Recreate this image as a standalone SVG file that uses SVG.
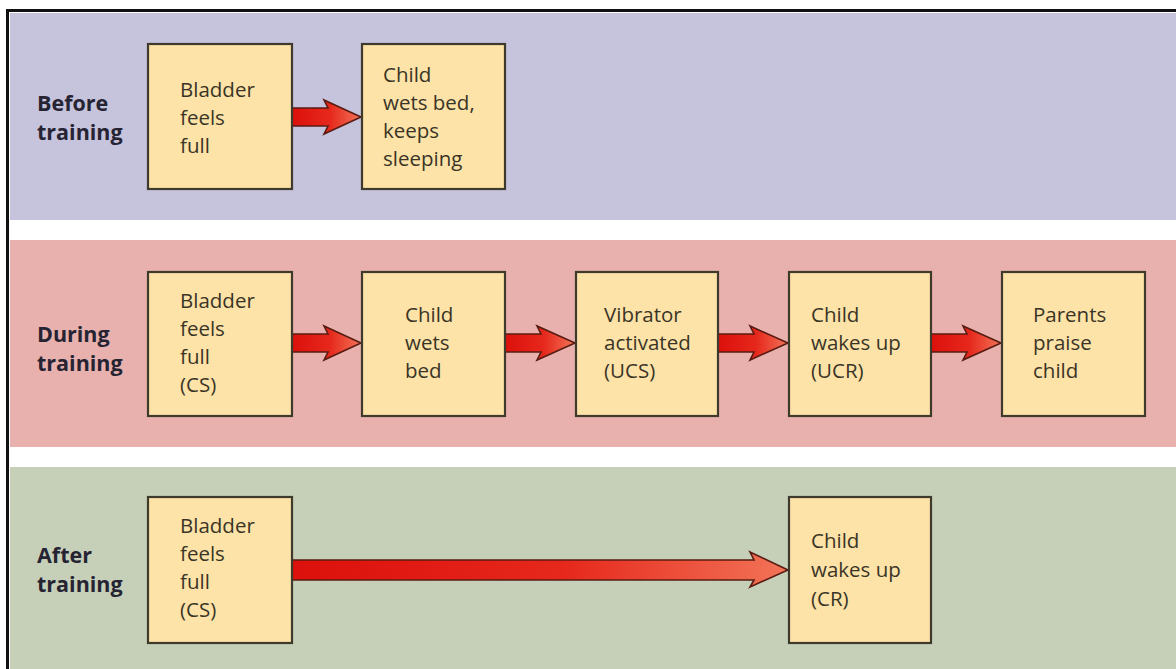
<svg xmlns="http://www.w3.org/2000/svg" width="1176" height="669" viewBox="0 0 1176 669">
<defs>
<linearGradient id="ag" x1="0" y1="0" x2="1" y2="0">
<stop offset="0" stop-color="#dc100c"/>
<stop offset="0.55" stop-color="#e6281c"/>
<stop offset="1" stop-color="#f27458"/>
</linearGradient>
<style>
.box{fill:#fde3a8;stroke:#3e3a2c;stroke-width:2.2}
.t{font-family:"Open Sans","Noto Sans",sans-serif;font-size:20.5px;fill:#3a3426}
.lab{font-family:"Open Sans","Noto Sans",sans-serif;font-size:21.5px;font-weight:bold;fill:#262433}
.arr{fill:url(#ag);stroke:#5a1c12;stroke-width:1.6;stroke-linejoin:miter}
</style>
</defs>
<rect x="0" y="0" width="1176" height="669" fill="#ffffff"/>
<rect x="10" y="13" width="1166" height="207" fill="#c6c3dc"/>
<rect x="10" y="240" width="1166" height="207" fill="#e8b1ae"/>
<rect x="10" y="467" width="1166" height="202" fill="#c6d0b9"/>
<path d="M7.5 669 V10.5 H1176" fill="none" stroke="#111" stroke-width="3"/>

<g id="labels">
<text class="lab" x="37" y="111">Before</text>
<text class="lab" x="37" y="140">training</text>
<text class="lab" x="37" y="342">During</text>
<text class="lab" x="37" y="371">training</text>
<text class="lab" x="37" y="563">After</text>
<text class="lab" x="37" y="592">training</text>
</g>

<g id="connectors">
<path class="arr" d="M292 108 H328 L324 100 L361 117 L324 134 L328 126 H292 Z"/>
<path class="arr" d="M292 334 H328 L324 326 L361 343 L324 360 L328 352 H292 Z"/>
<path class="arr" d="M505 334 H541 L537 326 L575 343 L537 360 L541 352 H505 Z"/>
<path class="arr" d="M718 334 H754 L750 326 L788 343 L750 360 L754 352 H718 Z"/>
<path class="arr" d="M931 334 H967 L963 326 L1001 343 L963 360 L967 352 H931 Z"/>
<path class="arr" d="M292 560 H754 L750 552 L788 570 L750 587 L754 580 H292 Z"/>
</g>

<g id="before-bladder">
<rect class="box" x="148" y="44" width="144" height="145"/>
<text class="t" x="180" y="97">Bladder</text>
<text class="t" x="180" y="125">feels</text>
<text class="t" x="180" y="153">full</text>
</g>
<g id="before-wets">
<rect class="box" x="362" y="44" width="143" height="145"/>
<text class="t" x="383" y="82">Child</text>
<text class="t" x="383" y="110">wets bed,</text>
<text class="t" x="383" y="138">keeps</text>
<text class="t" x="383" y="166">sleeping</text>
</g>

<g id="during-bladder">
<rect class="box" x="148" y="272" width="144" height="144"/>
<text class="t" x="180" y="308">Bladder</text>
<text class="t" x="180" y="336">feels</text>
<text class="t" x="180" y="364">full</text>
<text class="t" x="180" y="392">(CS)</text>
</g>
<g id="during-wets">
<rect class="box" x="362" y="272" width="143" height="144"/>
<text class="t" x="405" y="322">Child</text>
<text class="t" x="405" y="350">wets</text>
<text class="t" x="405" y="378">bed</text>
</g>
<g id="during-vibrator">
<rect class="box" x="576" y="272" width="142" height="144"/>
<text class="t" x="604" y="322">Vibrator</text>
<text class="t" x="604" y="350">activated</text>
<text class="t" x="604" y="378">(UCS)</text>
</g>
<g id="during-wakes">
<rect class="box" x="789" y="272" width="142" height="144"/>
<text class="t" x="811" y="322">Child</text>
<text class="t" x="811" y="350">wakes up</text>
<text class="t" x="811" y="378">(UCR)</text>
</g>
<g id="during-praise">
<rect class="box" x="1002" y="272" width="143" height="144"/>
<text class="t" x="1033" y="322">Parents</text>
<text class="t" x="1033" y="350">praise</text>
<text class="t" x="1033" y="378">child</text>
</g>

<g id="after-bladder">
<rect class="box" x="148" y="497" width="144" height="146"/>
<text class="t" x="180" y="533">Bladder</text>
<text class="t" x="180" y="561">feels</text>
<text class="t" x="180" y="589">full</text>
<text class="t" x="180" y="617">(CS)</text>
</g>
<g id="after-wakes">
<rect class="box" x="789" y="497" width="142" height="146"/>
<text class="t" x="811" y="548">Child</text>
<text class="t" x="811" y="577">wakes up</text>
<text class="t" x="811" y="606">(CR)</text>
</g>
</svg>
